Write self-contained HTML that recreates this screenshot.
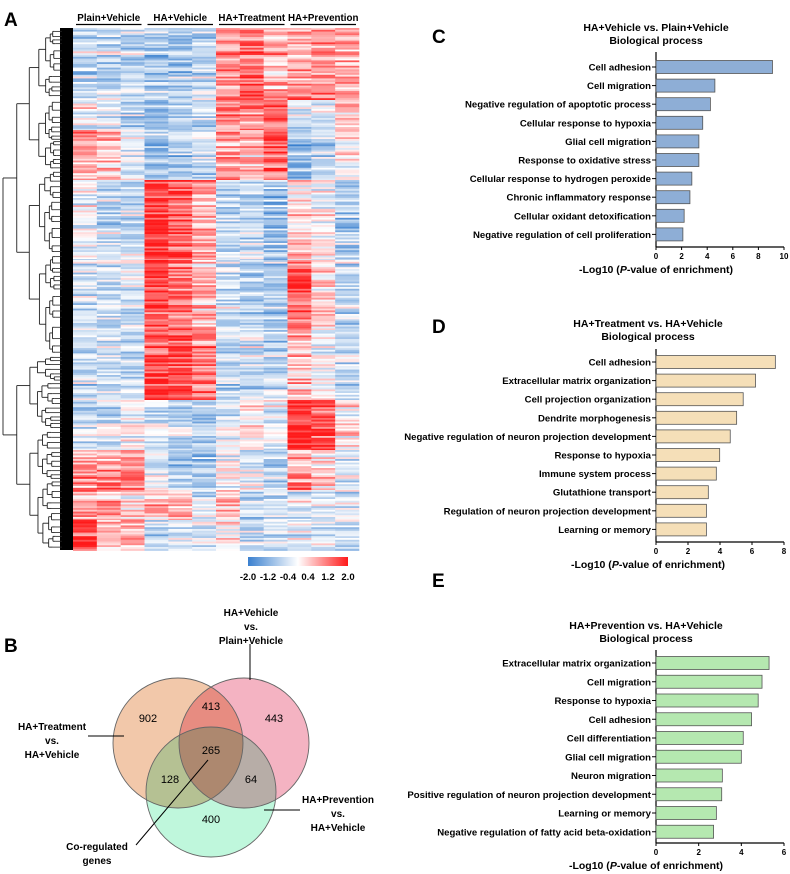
<!DOCTYPE html>
<html><head><meta charset="utf-8">
<style>
html,body{margin:0;padding:0;background:#fff;}
body{width:790px;height:874px;overflow:hidden;font-family:"Liberation Sans",Arial,sans-serif;}
svg{display:block}
</style></head>
<body>
<svg id="fig" width="790" height="874" viewBox="0 0 790 874" xmlns="http://www.w3.org/2000/svg" font-family="Liberation Sans, Arial, sans-serif">
  <text x="4" y="26" font-size="19" font-weight="bold">A</text>
  <text x="4" y="652" font-size="19" font-weight="bold">B</text>
  <text x="432" y="43" font-size="19" font-weight="bold">C</text>
  <text x="432" y="333" font-size="19" font-weight="bold">D</text>
  <text x="432" y="587" font-size="19" font-weight="bold">E</text>
  <g id="heat"></g>
  <g id="dendro"></g>
  <g id="colorbar"></g>
  <g id="venn"></g>
  <g id="chartC"></g>
  <g id="chartD"></g>
  <g id="chartE"></g>
</svg>
<script>
const NS='http://www.w3.org/2000/svg';
function mk(tag,attrs,parent){const e=document.createElementNS(NS,tag);for(const k in attrs)e.setAttribute(k,attrs[k]);parent.appendChild(e);return e;}

// ---------- Heatmap data ----------
const groupNames=['Plain+Vehicle','HA+Vehicle','HA+Treatment','HA+Prevention'];
const bandEdges=[28,100,130,180,260,330,400,450,490,520,550];
const bandMeans=[
 [-0.6,-0.5,-0.6,-0.8,-0.8,-0.6,1.0,1.4,0.8,0.9,1.0,0.8],
 [0.0,-0.3,-0.6,-1.0,-0.7,-0.5,1.0,1.0,1.3,-0.5,-0.3,0.6],
 [0.8,0.6,-0.3,-0.8,-0.8,-0.5,0.8,0.6,1.5,-1.0,-0.6,0.2],
 [-0.1,-0.5,-0.5,1.8,1.4,0.8,-0.5,-0.6,-0.9,0.3,0.0,-0.7],
 [-0.4,-0.5,-0.3,1.6,1.2,0.6,-0.5,-0.7,-0.8,1.4,0.4,-0.5],
 [-0.6,-0.6,-0.5,1.6,1.6,1.2,-0.6,-0.5,-0.6,0.6,0.0,-0.6],
 [-0.6,-0.4,0.0,-0.4,-0.6,-0.8,-0.4,0.2,-0.3,1.8,1.5,0.2],
 [0.9,0.8,1.0,-0.4,-0.9,-0.9,0.0,-0.3,-0.6,0.8,0.4,-0.3],
 [0.9,0.6,0.2,0.6,0.5,-0.3,0.5,-0.6,-0.4,-0.3,-0.4,-0.3],
 [1.6,0.6,0.6,-0.6,-0.3,-0.4,0.2,-0.5,-0.3,-0.3,-0.4,-0.4]
];
const colorTicks=['-2.0','-1.2','-0.4','0.4','1.2','2.0'];

const hx0=73,hx1=359,ncol=12,cw=(hx1-hx0)/ncol,rowH=1.8;
function col(v){v=Math.max(-2,Math.min(2,v));
  if(v<0){const t=-v/2;return `rgb(${Math.round(255-(255-58)*t)},${Math.round(255-(255-128)*t)},${Math.round(255-(255-207)*t)})`;}
  const t=v/2;return `rgb(255,${Math.round(255-(255-26)*t)},${Math.round(255-(255-26)*t)})`;}
function hash(i,j){let h=(i*374761393+j*668265263)>>>0;h=((h^(h>>>13))*1274126177)>>>0;return ((h^(h>>>16))>>>0)/4294967296;}
const heat=document.getElementById('heat');
for(let b=0;b<bandMeans.length;b++){
  for(let y=bandEdges[b],r=0;y<bandEdges[b+1];y+=rowH,r++){
    const rowShift=(hash(Math.round(y*10),99)-0.5)*1.2;
    for(let c=0;c<ncol;c++){
      const v=bandMeans[b][c]+rowShift*0.8+(hash(Math.round(y*10),c)-0.5)*1.3;
      const el=mk('rect',{x:hx0+c*cw,y:y,width:cw+0.3,height:rowH+0.3,fill:col(v)},heat);
      
      
    }
  }
}
for(let g=0;g<4;g++){
  const x=hx0+g*3*cw;
  const t=mk('text',{x:x+1.5*cw,y:21,'font-size':9.8,'font-weight':'bold','text-anchor':'middle'},heat);
  t.textContent=groupNames[g];
  
  
  const l=mk('line',{x1:x+3,x2:x+3*cw-3,y1:24.5,y2:24.5,stroke:'#000','stroke-width':1.2},heat);
  
  
}
// dendrogram
const dg=document.getElementById('dendro');
mk('rect',{x:60,y:28,width:13,height:522,fill:'#000'},dg);
function tree(y0,y1,x,depth){
  const mid=(y0+y1)/2;
  if(depth>6||y1-y0<6){mk('line',{x1:x,x2:62,y1:mid,y2:mid,stroke:'#222','stroke-width':0.8},dg);return mid;}
  const f=0.35+0.3*hash(Math.round(y0),depth);
  const split=y0+(y1-y0)*f;
  const nx=x+(62-x)*(0.18+0.15*hash(depth,Math.round(y1)));
  const a=tree(y0,split,nx,depth+1),b=tree(split,y1,nx,depth+1);
  mk('line',{x1:x,x2:x,y1:a,y2:b,stroke:'#222','stroke-width':0.9},dg);
  mk('line',{x1:x,x2:nx,y1:a,y2:a,stroke:'#222','stroke-width':0.9},dg);
  mk('line',{x1:x,x2:nx,y1:b,y2:b,stroke:'#222','stroke-width':0.9},dg);
  return (a+b)/2;
}
const root=tree(28,550,3,0);
// colorbar
const cb=document.getElementById('colorbar');
const defs=mk('defs',{},cb);
const grad=mk('linearGradient',{id:'cbg',x1:0,x2:1,y1:0,y2:0},defs);
mk('stop',{offset:'0','stop-color':col(-2)},grad);mk('stop',{offset:'0.5','stop-color':'#fff'},grad);mk('stop',{offset:'1','stop-color':col(2)},grad);
mk('rect',{x:248,y:557,width:100,height:9,fill:'url(#cbg)'},cb);
colorTicks.forEach((t,i)=>{const e=mk('text',{x:248+i*20,y:580,'font-size':9.5,'font-weight':'bold','text-anchor':'middle'},cb);e.textContent=t;
 });

// ---------- Venn ----------
const vennCounts=['902','413','443','265','128','64','400'];
const vg=document.getElementById('venn');
const vg2=mk('g',{style:'isolation:isolate'},vg);
[[178,743,'#f2c8aa'],[244,743,'#f4b3c2'],[211,792,'#bff7dc']].forEach(c=>{
  const e=mk('circle',{cx:c[0],cy:c[1],r:65,fill:c[2],style:'mix-blend-mode:multiply'},vg2);
  });
[[178,743],[244,743],[211,792]].forEach(c=>mk('circle',{cx:c[0],cy:c[1],r:65,fill:'none',stroke:'#666','stroke-width':0.9},vg));
const vpos=[[148,722],[211,710],[274,722],[211,754],[170,783],[251,783],[211,823]];
vennCounts.forEach((n,i)=>{const e=mk('text',{x:vpos[i][0],y:vpos[i][1],'font-size':11,'text-anchor':'middle'},vg);e.textContent=n;
 });
function lbl(lines,x,y,name){lines.forEach((s,i)=>{const e=mk('text',{x:x,y:y+i*14,'font-size':10,'font-weight':'bold','text-anchor':'middle'},vg);e.textContent=s;
 });}
lbl(['HA+Vehicle','vs.','Plain+Vehicle'],251,616,'venn-label-ha-vehicle');
lbl(['HA+Treatment','vs.','HA+Vehicle'],52,730,'venn-label-ha-treatment');
lbl(['HA+Prevention','vs.','HA+Vehicle'],338,803,'venn-label-ha-prevention');
lbl(['Co-regulated','genes'],97,850,'venn-label-coregulated');
[[250,644,250,680],[88,736,124,736],[264,810,300,810],[136,845,208,760]].forEach(l=>mk('line',{x1:l[0],y1:l[1],x2:l[2],y2:l[3],stroke:'#000','stroke-width':1},vg));

// ---------- Bar charts ----------
const cTerms=['Cell adhesion','Cell migration','Negative regulation of apoptotic process','Cellular response to hypoxia','Glial cell migration','Response to oxidative stress','Cellular response to hydrogen peroxide','Chronic inflammatory response','Cellular oxidant detoxification','Negative regulation of cell proliferation'];
const cValues=[9.1,4.6,4.25,3.65,3.35,3.35,2.8,2.65,2.2,2.1];
const cTicks=[0,2,4,6,8,10];
const dTerms=['Cell adhesion','Extracellular matrix organization','Cell projection organization','Dendrite morphogenesis','Negative regulation of neuron projection development','Response to hypoxia','Immune system process','Glutathione transport','Regulation of neuron projection development','Learning or memory'];
const dValues=[7.46,6.22,5.45,5.04,4.64,3.98,3.77,3.27,3.15,3.15];
const dTicks=[0,2,4,6,8];
const eTerms=['Extracellular matrix organization','Cell migration','Response to hypoxia','Cell adhesion','Cell differentiation','Glial cell migration','Neuron migration','Positive regulation of neuron projection development','Learning or memory','Negative regulation of fatty acid beta-oxidation'];
const eValues=[5.3,4.97,4.79,4.48,4.09,4.0,3.11,3.08,2.83,2.70];
const eTicks=[0,2,4,6];

function barChart(id,terms,vals,ticks,cfg){
  const g=document.getElementById(id);
  const x0=656,x1=784,max=ticks[ticks.length-1];
  const sx=v=>x0+(x1-x0)*v/max;
  const sy=i=>cfg.row0+i*cfg.step;
  cfg.title.forEach((t,i)=>{const e=mk('text',{x:cfg.tx,y:cfg.ty+i*13,'font-size':10.5,'font-weight':'bold','text-anchor':'middle'},g);e.textContent=t;
    });
  mk('line',{x1:x0,x2:x0,y1:cfg.top,y2:cfg.bot,stroke:'#000','stroke-width':1.2},g);
  mk('line',{x1:x0,x2:x1,y1:cfg.bot,y2:cfg.bot,stroke:'#000','stroke-width':1.2},g);
  terms.forEach((t,i)=>{
    const b=mk('rect',{x:x0,y:sy(i)-6.5,width:sx(vals[i])-x0,height:13,fill:cfg.fill,stroke:'#555','stroke-width':0.8},g);
    
    mk('line',{x1:x0-4,x2:x0,y1:sy(i),y2:sy(i),stroke:'#000','stroke-width':1},g);
    const e=mk('text',{x:x0-5,y:sy(i)+3.5,'font-size':9.6,'font-weight':'bold','text-anchor':'end'},g);e.textContent=t;
    
  });
  ticks.forEach(t=>{mk('line',{x1:sx(t),x2:sx(t),y1:cfg.bot,y2:cfg.bot+3,stroke:'#000','stroke-width':1},g);
    const e=mk('text',{x:sx(t),y:cfg.bot+12,'font-size':8,'font-weight':'bold','text-anchor':'middle'},g);e.textContent=t;
    });
  const xt=mk('text',{x:cfg.tx,y:cfg.bot+26,'font-size':10.5,'font-weight':'bold','text-anchor':'middle'},g);
  xt.innerHTML='-Log10 (<tspan font-style="italic">P</tspan>-value of enrichment)';
  
}
barChart('chartC',cTerms,cValues,cTicks,{row0:67,step:18.6,top:52,bot:247,title:['HA+Vehicle vs. Plain+Vehicle','Biological process'],tx:656,ty:31,fill:'#8eaed6'});
barChart('chartD',dTerms,dValues,dTicks,{row0:362,step:18.6,top:349,bot:542,title:['HA+Treatment vs. HA+Vehicle','Biological process'],tx:648,ty:327,fill:'#f5dfb8'});
barChart('chartE',eTerms,eValues,eTicks,{row0:663,step:18.75,top:650,bot:843,title:['HA+Prevention vs. HA+Vehicle','Biological process'],tx:646,ty:629,fill:'#b5e8b0'});
</script>
</body></html>
